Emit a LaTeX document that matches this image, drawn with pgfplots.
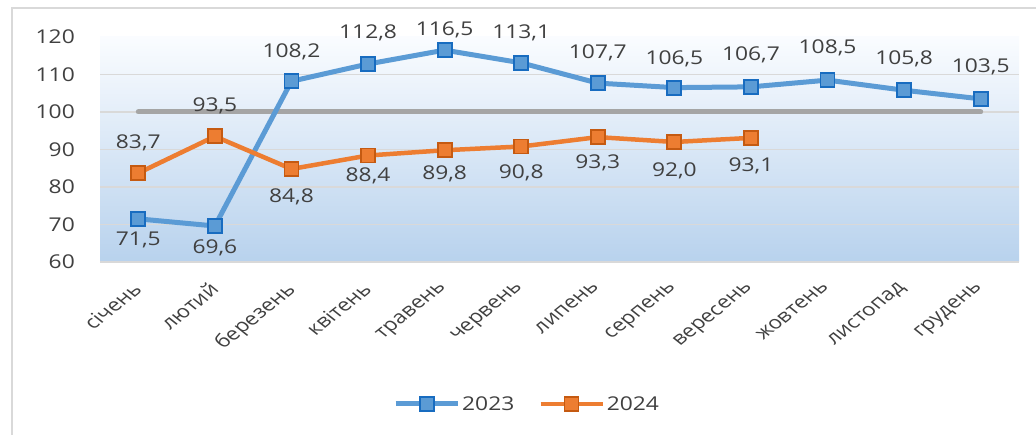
\documentclass[border=0pt]{standalone}
\usepackage{fontspec}
\setmainfont{Open Sans}[FakeStretch=1.2]
\newfontfamily\plainfont{Open Sans}
\usepackage{pgfplots}
\pgfplotsset{compat=1.18}
\usepackage{pgfplotstable}

\definecolor{txt}{RGB}{64,64,64}
\definecolor{blueF}{RGB}{91,155,213}
\definecolor{blueE}{RGB}{24,108,192}
\definecolor{blueL}{RGB}{91,155,213}
\definecolor{orF}{RGB}{237,125,49}
\definecolor{orE}{RGB}{197,90,17}
\definecolor{grayL}{RGB}{165,165,165}
\definecolor{gridc}{RGB}{217,217,217}
\definecolor{framec}{RGB}{217,217,217}
\definecolor{bgtop}{RGB}{250,252,255}
\definecolor{bgbot}{RGB}{184,210,237}

\pgfplotstableread{
x y off
0 71.5 -21
1 69.6 -22
2 108.2 29
3 112.8 31
4 116.5 20
5 113.1 30
6 107.7 30
7 106.5 29
8 106.7 32
9 108.5 32
10 105.8 31
11 103.5 32
}\tabA

\pgfplotstableread{
x y off
0 83.7 30
1 93.5 31
2 84.8 -28
3 88.4 -20
4 89.8 -24
5 90.8 -26
6 93.3 -26
7 92.0 -29
8 93.1 -28
}\tabB

\pgfplotstableread{
x y
0 100
11 100
}\tabC

\begin{document}
\begin{tikzpicture}
\path[use as bounding box] (0pt,0pt) rectangle (1036pt,435pt);
\draw[framec, line width=2pt] (12pt,-2pt) -- (12pt,427pt) -- (1038pt,427pt);
\begin{axis}[
  at={(100pt,173pt)}, anchor=south west,
  scale only axis, width=919pt, height=225pt,
  xmin=-0.5, xmax=11.5, ymin=60, ymax=120,
  clip=false,
  /pgf/number format/assume math mode=true,
  axis background/.style={top color=bgtop, bottom color=bgbot},
  axis line style={draw=none},
  tick style={draw=none},
  xtick={0,...,11},
  xticklabels={січень,лютий,березень,квітень,травень,червень,липень,серпень,вересень,жовтень,листопад,грудень},
  ytick={60,70,...,120},
  extra y ticks={60,70,...,110},
  extra y tick labels={},
  extra y tick style={ymajorgrids=true, major grid style={gridc, line width=1.6pt}},
  yticklabel style={font=\fontsize{19}{22}\selectfont, text=txt, anchor=east, inner sep=0pt, xshift=-25pt},
  xticklabel style={font=\plainfont\fontsize{18}{20}\selectfont, text=txt, xshift=-7pt, yshift=-19pt, xscale=1.25, rotate=45, anchor=north east, inner sep=0pt},
  legend style={at={(0.4647,-0.631)}, anchor=center, draw=none, fill=none,
    legend columns=2, font=\fontsize{19}{22}\selectfont, text=txt,
    /tikz/every even column/.append style={column sep=22pt}},
  legend image code/.code={\draw[mark repeat=2,mark phase=2,#1] plot coordinates {(0pt,0pt) (31pt,0pt) (62pt,0pt)};},
  every node near coord/.append style={font=\fontsize{19}{22}\selectfont, text=txt, anchor=center},
]
\addplot[grayL, line width=5pt, line cap=round, forget plot] table[x=x,y=y]{\tabC};
\addplot[blueL, line width=5pt, mark=square*, mark size=7pt,
  mark options={fill=blueF, draw=blueE, line width=1.8pt},
  point meta=y,
  visualization depends on={\thisrow{off} \as \off},
  nodes near coords={\pgfmathprintnumber[fixed,fixed zerofill,precision=1,use comma,assume math mode=true]{\pgfplotspointmeta}},
  every node near coord/.append style={yshift=\off}]
  table[x=x,y=y]{\tabA};
\addlegendentry{2023}
\addplot[orF, line width=4.5pt, mark=square*, mark size=7pt,
  mark options={fill=orF, draw=orE, line width=1.8pt},
  point meta=y,
  visualization depends on={\thisrow{off} \as \off},
  nodes near coords={\pgfmathprintnumber[fixed,fixed zerofill,precision=1,use comma,assume math mode=true]{\pgfplotspointmeta}},
  every node near coord/.append style={yshift=\off}]
  table[x=x,y=y]{\tabB};
\addlegendentry{2024}
\end{axis}
\end{tikzpicture}
\end{document}
